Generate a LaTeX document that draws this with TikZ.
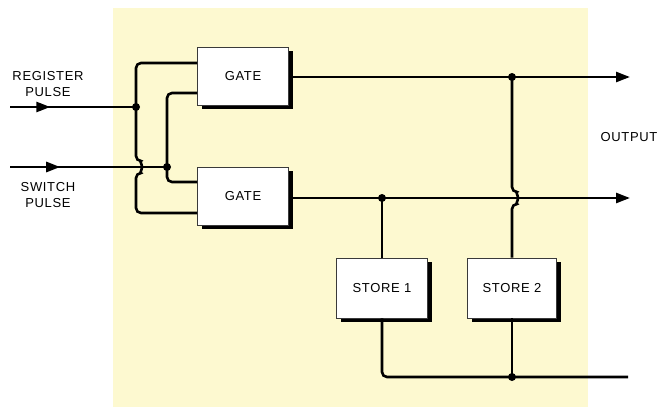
\documentclass[tikz,border=0pt]{standalone}
\usepackage{fontspec}
\setmainfont{Liberation Sans}[LetterSpace=5]
\usetikzlibrary{arrows.meta, positioning, shadows, decorations.markings}
\definecolor{papercol}{HTML}{FDF9D0}
\definecolor{boxline}{HTML}{3A3A3A}
\tikzset{
  unitbox/.style={rectangle, draw=boxline, line width=0.6pt, fill=white, minimum width=91pt, minimum height=58pt,
    inner sep=0pt, font=\fontsize{13}{14}\selectfont,
    drop shadow={shadow xshift=4pt, shadow yshift=-4pt, fill=black, opacity=1}},
  wire/.style={line width=2.6pt, rounded corners=5pt},
  outwire/.style={wire, -{Triangle[length=14pt, width=10pt]}},
  inwire/.style={wire, postaction={decorate}, decoration={markings,
    mark=at position 0.32 with {\arrow{Triangle[length=14pt, width=10pt]}}}},
  dot/.style={circle, fill=black, inner sep=0pt, minimum size=8pt},
  lbl/.style={font=\fontsize{13}{16}\selectfont, align=center, inner sep=0pt},
}
\begin{document}
\begin{tikzpicture}[x=1pt, y=-1pt]
  \useasboundingbox (0,0) rectangle (659,407);
  % ── paper background ─────────────────────────────────────────────
  \fill[papercol] (113,8) rectangle (588,407);
  % ── gate and store blocks ────────────────────────────────────────
  \node[unitbox] (gateA) at (243,76) {GATE};
  \node[unitbox] (gateB) at (243,196) {GATE};
  \node[unitbox, minimum height=60pt] (storeA) at (382,288) {STORE 1};
  \node[unitbox, minimum height=60pt, minimum width=89pt] (storeB) at (512,288) {STORE 2};
  % ── input labels and points ──────────────────────────────────────
  \node[lbl] (regtxt) at (48,84) {REGISTER\\PULSE};
  \node[lbl] (swtxt) at (48,195) {SWITCH\\PULSE};
  \node[lbl] (outtxt) at (629,137) {OUTPUT};
  \coordinate (regin) at (10,107);
  \coordinate (swin) at (10,167);
  \node[dot] (jreg) at (136,107) {};
  \node[dot] (jsw) at (167,167) {};
  % ── output end points and junctions ──────────────────────────────
  \coordinate (outA) at (630,77);
  \coordinate (outB) at (630,198);
  \coordinate (outC) at (628,377);
  \node[dot] (jA) at (512,77) {};
  \node[dot] (jB) at (382,198) {};
  \node[dot] (jC) at (512,377) {};
  % ── input wires ──────────────────────────────────────────────────
  \draw[inwire] (regin) -- (jreg.center);
  \draw[inwire] (swin) -- (jsw.center);
  \draw[wire] (gateA.west |- 0,63) -| (136,161)
    arc[start angle=-90, end angle=90, radius=6] -- (136,213) -- (gateB.west |- 0,213);
  \draw[wire] (gateA.west |- 0,93) -| (167,182) -- (gateB.west |- 0,182);
  % ── output wires ─────────────────────────────────────────────────
  \draw[outwire] (gateA.east |- outA) -- (outA);
  \draw[outwire] (gateB.east |- outB) -- (outB);
  \draw[wire] (jA.center) -- (512,192)
    arc[start angle=-90, end angle=90, radius=6] -- (storeB.north);
  \draw[wire] (jB.center) -- (storeA.north);
  % ── store return line ────────────────────────────────────────────
  \draw[wire] (storeA.south) |- (outC);
  \draw[wire] (storeB.south) -- (jC.center);
\end{tikzpicture}
\end{document}
